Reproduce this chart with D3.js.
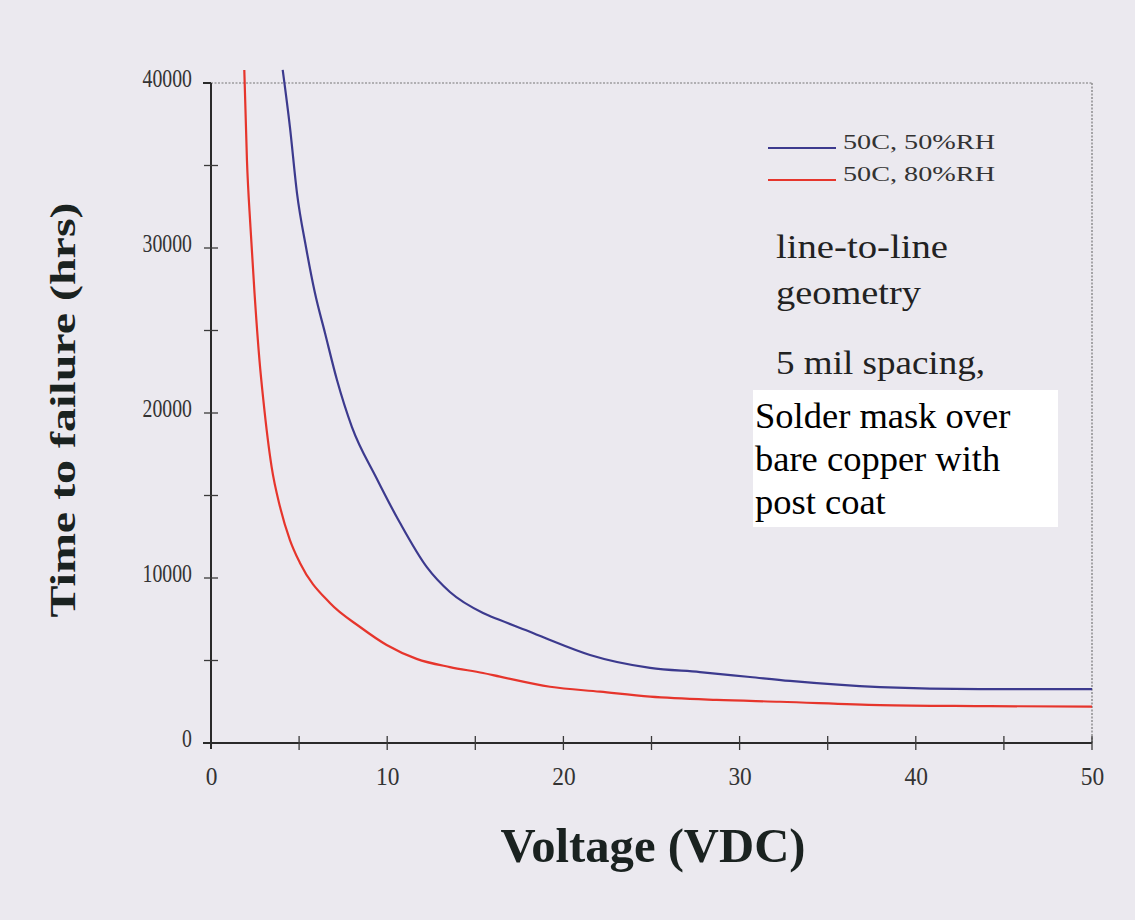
<!DOCTYPE html>
<html>
<head>
<meta charset="utf-8">
<script src="https://cdn.jsdelivr.net/npm/d3@7"></script>
<style>
  html, body { margin: 0; padding: 0; background: #ebe9ef; }
  svg { display: block; }
  text { font-family: "Liberation Serif", "Times New Roman", serif; }
</style>
</head>
<body>
<script>
// ---- data ----
const xTicks = [0, 10, 20, 30, 40, 50];
const xMinorTicks = [0, 5, 10, 15, 20, 25, 30, 35, 40, 45, 50];
const yTicks = [0, 10000, 20000, 30000, 40000];
const yMinorTicks = [0, 5000, 10000, 15000, 20000, 25000, 30000, 35000, 40000];

const seriesNames = ["50C, 50%RH", "50C, 80%RH"];
const voltage50 = [4.07, 4.48, 4.88, 5.39, 5.90, 6.47, 7.15, 8.00, 9.36, 10.73, 12.24, 13.56, 15.44, 16.40, 18.27, 19.24, 21.51, 24.92, 27.75, 30.59, 32.86, 37.97, 43.64, 50];
const hours50   = [40790, 37330, 33330, 30060, 27270, 24850, 22000, 19150, 16120, 13330, 10670, 9150, 7880, 7450, 6670, 6240, 5330, 4550, 4300, 4000, 3760, 3390, 3270, 3270];
const voltage80 = [1.89, 2.04, 2.24, 2.47, 2.75, 2.97, 3.44, 3.92, 4.48, 5.05, 6.75, 8.46, 9.97, 11.67, 13.56, 15.44, 16.40, 19.24, 22.08, 24.92, 28.70, 32.29, 37.97, 43.64, 50];
const hours80   = [40790, 35330, 31270, 27270, 23210, 20790, 16730, 14300, 12300, 10910, 8480, 7030, 5940, 5100, 4600, 4240, 4020, 3410, 3110, 2810, 2610, 2500, 2300, 2240, 2200];
const seriesColors = ["#3c3a8e", "#e6352c"];

const notes = ["line-to-line", "geometry", "5 mil spacing,"];
const boxLines = ["Solder mask over", "bare copper with", "post coat"];

// ---- drawing ----
const W = 1135, H = 920;
const svg = d3.select("body").append("svg").attr("width", W).attr("height", H);
svg.append("rect").attr("width", W).attr("height", H).attr("fill", "#ebe9ef");

const x = d3.scaleLinear().domain([0, 50]).range([211, 1092]);
const y = d3.scaleLinear().domain([0, 40000]).range([743, 83]);

// frame (dotted top and right)
svg.append("line").attr("x1", x(0)).attr("x2", x(50)).attr("y1", y(40000)).attr("y2", y(40000))
  .attr("stroke", "#777").attr("stroke-width", 1.2).attr("stroke-dasharray", "2,1.5");
svg.append("line").attr("x1", x(50)).attr("x2", x(50)).attr("y1", y(40000)).attr("y2", y(0))
  .attr("stroke", "#777").attr("stroke-width", 1.2).attr("stroke-dasharray", "2,1.5");

// axes lines
svg.append("line").attr("x1", x(0) - 8).attr("x2", x(50)).attr("y1", y(0)).attr("y2", y(0))
  .attr("stroke", "#2a2a2a").attr("stroke-width", 2);
svg.append("line").attr("x1", x(0)).attr("x2", x(0)).attr("y1", y(40000)).attr("y2", y(0) + 6)
  .attr("stroke", "#2a2a2a").attr("stroke-width", 2);
svg.append("line").attr("x1", x(0) - 8).attr("x2", x(0)).attr("y1", y(40000)).attr("y2", y(40000))
  .attr("stroke", "#2a2a2a").attr("stroke-width", 2);

// cross ticks
svg.append("g").selectAll("line").data(xMinorTicks.slice(1)).join("line")
  .attr("x1", d => x(d)).attr("x2", d => x(d)).attr("y1", y(0) - 7).attr("y2", y(0) + 7)
  .attr("stroke", "#3a3a3a").attr("stroke-width", 1.3);
svg.append("g").selectAll("line").data(yMinorTicks.slice(1, -1)).join("line")
  .attr("x1", x(0) - 7).attr("x2", x(0) + 7).attr("y1", d => y(d)).attr("y2", d => y(d))
  .attr("stroke", "#3a3a3a").attr("stroke-width", 1.3);

// tick labels
const xAxis = d3.axisBottom(x).tickValues(xTicks).tickSize(0).tickPadding(0).tickFormat(d3.format("d"));
const gx = svg.append("g").attr("transform", `translate(0,${y(0) + 33})`).call(xAxis);
gx.select(".domain").remove();
gx.selectAll("text").attr("font-size", 26).attr("fill", "#333").attr("dy", "0.35em")
  .attr("transform", "scale(0.9,1)")
  .style("font-family", '"Liberation Serif", serif');

const yAxis = d3.axisLeft(y).tickValues(yTicks).tickSize(0).tickPadding(0).tickFormat(d3.format("d"));
const gy = svg.append("g").attr("transform", `translate(${x(0) - 19},-5)`).call(yAxis);
gy.select(".domain").remove();
gy.selectAll("text").attr("font-size", 26).attr("fill", "#333")
  .attr("transform", "scale(0.76,1)")
  .style("font-family", '"Liberation Serif", serif');

// curves
const line = d3.line().x(d => x(d[0])).y(d => y(d[1])).curve(d3.curveMonotoneX);
const series = [
  d3.zip(voltage50, hours50),
  d3.zip(voltage80, hours80)
];
svg.append("g").selectAll("path").data(series).join("path")
  .attr("d", line).attr("fill", "none")
  .attr("stroke", (d, i) => seriesColors[i]).attr("stroke-width", 2.2);

// legend
const lg = svg.append("g");
seriesNames.forEach((n, i) => {
  const ly = 148 + i * 32;
  lg.append("line").attr("x1", 768).attr("x2", 836).attr("y1", ly).attr("y2", ly)
    .attr("stroke", seriesColors[i]).attr("stroke-width", 2.2);
  lg.append("text").attr("x", 843).attr("y", ly - 6.5).attr("dy", "0.35em")
    .attr("font-size", 22).attr("fill", "#333")
    .attr("textLength", 152).attr("lengthAdjust", "spacingAndGlyphs").text(n);
});

// notes
const noteBase = [258, 304, 374];
const noteLen = [172, 145, 209];
notes.forEach((t, i) => {
  svg.append("text").attr("x", 776).attr("y", noteBase[i])
    .attr("font-size", 33).attr("fill", "#222")
    .attr("textLength", noteLen[i]).attr("lengthAdjust", "spacingAndGlyphs").text(t);
});

svg.append("rect").attr("x", 753).attr("y", 390).attr("width", 305).attr("height", 137).attr("fill", "#ffffff");
boxLines.forEach((t, i) => {
  svg.append("text").attr("x", 755).attr("y", 428 + i * 43)
    .attr("font-size", 36.5).attr("fill", "#000").text(t);
});

// axis titles
svg.append("text").attr("x", 653).attr("y", 845).attr("dy", "0.35em").attr("text-anchor", "middle")
  .attr("font-size", 48).attr("font-weight", "bold").attr("fill", "#1a2220")
  .attr("textLength", 305).attr("lengthAdjust", "spacingAndGlyphs").text("Voltage (VDC)");
svg.append("text").attr("transform", "translate(62,410) rotate(-90)").attr("dy", "0.35em")
  .attr("text-anchor", "middle").attr("font-size", 36).attr("font-weight", "bold").attr("fill", "#1a2220")
  .attr("textLength", 415).attr("lengthAdjust", "spacingAndGlyphs")
  .text("Time to failure (hrs)");
</script>
</body>
</html>
